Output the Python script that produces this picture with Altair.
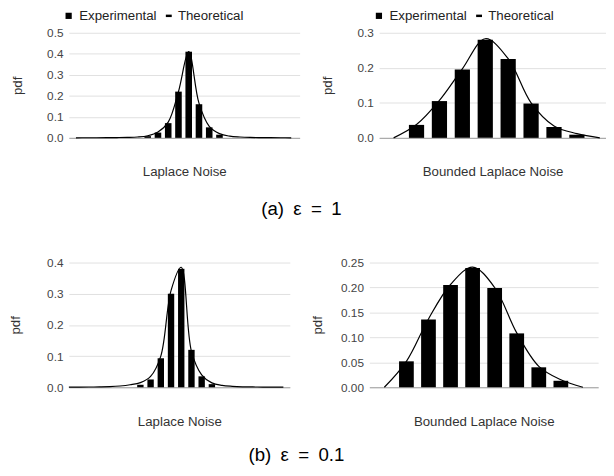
import altair as alt
import pandas as pd

FONT = "Liberation Sans"

# ---------------- data ----------------
# (a) eps = 1, Laplace noise
tl_bar_x = [-4, -3, -2, -1, 0, 1, 2, 3]
tl_bar_y = [0.008, 0.025, 0.07, 0.22, 0.41, 0.16, 0.05, 0.015]
tl_line_x = list(range(-11, 11))
tl_line_y = [0.0003, 0.0004, 0.0006, 0.0009, 0.0014, 0.0022, 0.004, 0.01, 0.028, 0.075, 0.22,
             0.41, 0.165, 0.055, 0.02, 0.008, 0.004, 0.002, 0.0012, 0.0008, 0.0005, 0.0003]

# (a) eps = 1, bounded Laplace noise
tr_bar_x = [1, 2, 3, 4, 5, 6, 7, 8]
tr_bar_y = [0.037, 0.105, 0.195, 0.28, 0.225, 0.098, 0.031, 0.009]
tr_line_x = list(range(0, 10))
tr_line_y = [0.0, 0.038, 0.107, 0.197, 0.283, 0.226, 0.1, 0.034, 0.012, 0.0]

# (b) eps = 0.1, Laplace noise
bl_bar_x = [-4, -3, -2, -1, 0, 1, 2, 3]
bl_bar_y = [0.008, 0.025, 0.093, 0.30, 0.38, 0.12, 0.035, 0.01]
bl_line_x = list(range(-11, 11))
bl_line_y = [0.0003, 0.0005, 0.0008, 0.0012, 0.002, 0.004, 0.008, 0.015, 0.035, 0.10, 0.31,
             0.385, 0.115, 0.04, 0.014, 0.006, 0.003, 0.0015, 0.001, 0.0006, 0.0004, 0.0002]

# (b) eps = 0.1, bounded Laplace noise
br_bar_x = [1, 2, 3, 4, 5, 6, 7, 8]
br_bar_y = [0.052, 0.136, 0.205, 0.239, 0.199, 0.108, 0.04, 0.013]
br_line_x = list(range(0, 10))
br_line_y = [0.0, 0.052, 0.137, 0.206, 0.241, 0.2, 0.109, 0.042, 0.015, 0.0]

series = ["Experimental", "Theoretical"]
tl_ticks = [0.0, 0.1, 0.2, 0.3, 0.4, 0.5]
tr_ticks = [0.0, 0.1, 0.2, 0.3]
bl_ticks = [0.0, 0.1, 0.2, 0.3, 0.4]
br_ticks = [0.0, 0.05, 0.10, 0.15, 0.20, 0.25]


def panel(bx, by, lx, ly, xdom, ticks, yfmt, w, h, bar_size, xtitle, legend, ypad):
    bars = pd.DataFrame({"x": bx, "y": by, "s": series[0]})
    line = pd.DataFrame({"x": lx, "y": ly, "s": series[1]})
    xs = alt.Scale(domain=xdom, nice=False, zero=False, padding=0)
    ys = alt.Scale(domain=[ticks[0], ticks[-1]], nice=False, padding=0)
    xaxis = alt.Axis(title=xtitle, labels=False, ticks=False, grid=False, domain=True,
                     domainColor="#9e9e9e", titlePadding=27.5, minExtent=0, maxExtent=0)
    yaxis = alt.Axis(title="pdf", values=ticks, format=yfmt, grid=True, ticks=False,
                     domain=False, labelPadding=6, minExtent=30, maxExtent=30,
                     titlePadding=ypad)
    if legend:
        fleg = alt.Legend(orient="none", legendX=-7, legendY=-24, title=None,
                          symbolType="square", symbolSize=40, labelOffset=4)
        sleg = alt.Legend(orient="none", legendX=95, legendY=-24, title=None,
                          symbolType="stroke", symbolSize=36, symbolStrokeWidth=2.5,
                          labelOffset=2.5)
    else:
        fleg = None
        sleg = None
    b = alt.Chart(bars).mark_bar(size=bar_size).encode(
        x=alt.X("x:Q", scale=xs, axis=xaxis),
        y=alt.Y("y:Q", scale=ys, axis=yaxis),
        fill=alt.Fill("s:N", scale=alt.Scale(domain=[series[0]], range=["#000000"]), legend=fleg),
    )
    l = alt.Chart(line).mark_line(interpolate="catmull-rom", strokeWidth=1.2).encode(
        x=alt.X("x:Q", scale=xs, axis=xaxis),
        y=alt.Y("y:Q", scale=ys, axis=yaxis),
        stroke=alt.Stroke("s:N", scale=alt.Scale(domain=[series[1]], range=["#000000"]), legend=sleg),
    )
    return alt.layer(b, l).properties(width=w, height=h)


tl = panel(tl_bar_x, tl_bar_y, tl_line_x, tl_line_y, [-11.69, 10.82], tl_ticks, ".1f",
           235, 107, 6.7, "Laplace Noise", True, 15.5)
tr = panel(tr_bar_x, tr_bar_y, tr_line_x, tr_line_y, [-0.63, 9.27], tr_ticks, ".1f",
           231, 107, 15.5, "Bounded Laplace Noise", True, 15.5)
bl = panel(bl_bar_x, bl_bar_y, bl_line_x, bl_line_y, [-11.0, 10.63], bl_ticks, ".1f",
           225, 127, 6.5, "Laplace Noise", False, 17.5)
br = panel(br_bar_x, br_bar_y, br_line_x, br_line_y, [-0.68, 9.69], br_ticks, ".2f",
           233, 127, 15, "Bounded Laplace Noise", False, 15.5)


def caption(text, offset):
    return alt.TitleParams(text=text, orient="bottom", anchor="middle", offset=offset,
                           fontSize=19, font=FONT, fontWeight="normal", color="#000000",
                           dx=-7)


row_a = (
    alt.hconcat(tl, tr, spacing=21)
    .resolve_scale(fill="independent", stroke="independent")
    .resolve_legend(fill="independent", stroke="independent")
    .properties(title=caption("(a)\u2002\u03b5\u2002=\u20021", 22.8))
)
row_b = alt.hconcat(bl, br, spacing=21).properties(
    title=caption("(b)\u2002\u03b5\u2002=\u20020.1", 19))

chart = (
    alt.vconcat(row_a, row_b, spacing=38)
    .properties(padding={"top": -3, "left": 0, "right": 0, "bottom": 0})
    .configure_view(stroke=None)
    .configure_axis(labelFont=FONT, titleFont=FONT, labelFontSize=12, titleFontSize=13.5,
                    titleFontWeight="normal", labelColor="#444444", titleColor="#333333",
                    gridColor="#e0e0e0", gridWidth=1)
    .configure_legend(labelFont=FONT, labelFontSize=13.5, labelColor="#222222", padding=0)
)

chart.save("out.html", embed_options={"renderer": "svg", "actions": False})
